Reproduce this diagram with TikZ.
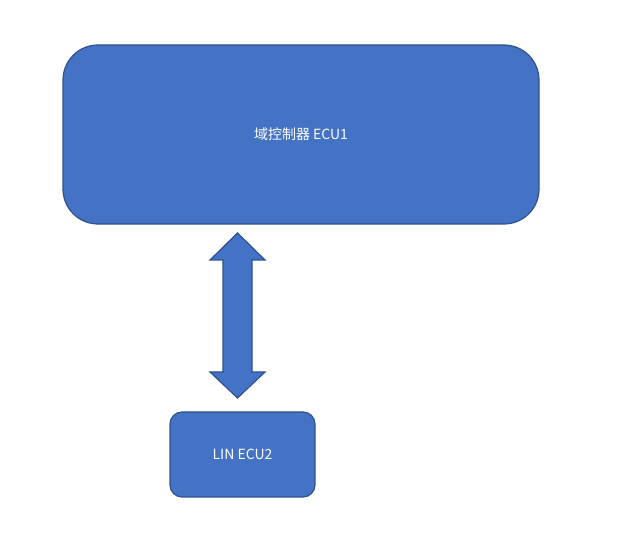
\documentclass[tikz,border=0pt]{standalone}
\usepackage{fontspec}
\setmainfont{Noto Sans CJK SC}
\usetikzlibrary{shapes.arrows}
\definecolor{boxfill}{HTML}{4472C4}
\definecolor{boxline}{HTML}{2F528F}
\tikzset{
  ecubox/.style={draw=boxline, fill=boxfill, line width=1.2pt, text=white, font=\fontsize{14}{16}\selectfont},
}
\begin{document}
\begin{tikzpicture}[x=1pt,y=-1pt]
\useasboundingbox (0,0) rectangle (641,537);

\node[ecubox, rounded corners=35pt, minimum width=476pt, minimum height=179pt] (ecuone) at (301,134.5) {域控制器 ECU1};
\node[ecubox, rounded corners=12pt, minimum width=145pt, minimum height=85pt] (ecutwo) at (242.5,454.5) {LIN ECU2};

% double arrow between the two ECUs
\draw[boxline, fill=boxfill, line width=1.2pt]
  (237.5,233) -- (265,260) -- (252,260) -- (252,372) -- (265,372) -- (237.5,398)
  -- (210,372) -- (223,372) -- (223,260) -- (210,260) -- cycle;
\end{tikzpicture}
\end{document}
